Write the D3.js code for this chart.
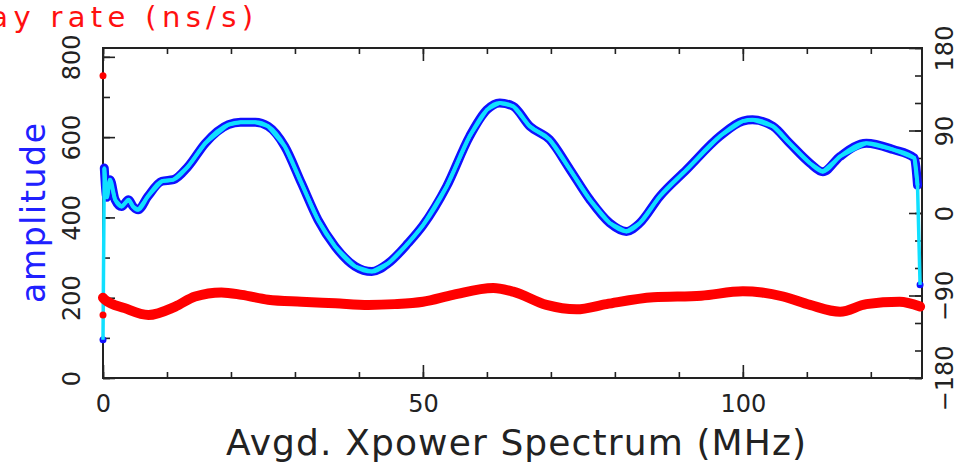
<!DOCTYPE html>
<html>
<head>
<meta charset="utf-8">
<script src="https://cdn.jsdelivr.net/npm/d3@7"></script>
<style>
  html, body { margin: 0; padding: 0; background: #fff; }
  svg { display: block; }
</style>
</head>
<body>
<svg id="chart" width="967" height="469"></svg>
<script>
// amplitude spectrum (blue / cyan)
const ampFreq = [0, 0.2, 0.6, 1.1, 1.9, 2.9, 4.0, 4.7, 5.5, 7.0, 9.2, 11, 13.3, 16, 19.6, 21.5, 23.8, 25.8,
  28.4, 31, 33.6, 36.3, 39.4, 42, 44.6, 47.7, 50, 53.7, 57.3, 60, 62, 64.1, 66.7, 69.8, 73, 76.1, 79.2,
  81.8, 83.9, 87, 91.2, 96.4, 100, 101.5, 104.7, 107.3, 110.5, 112.5, 115.2, 119.3, 123.5, 126.8, 127.3, 127.7];
const ampValue = [95, 523, 450, 494, 444, 427, 444, 427, 419, 452, 490, 494, 527, 585, 631, 637, 637, 627,
  577, 486, 394, 327, 278, 265, 286, 336, 380, 477, 602, 668, 685, 677, 627, 594, 519, 444, 386,
  365, 386, 452, 519, 602, 640, 643, 627, 585, 535, 514, 552, 585, 569, 548, 480, 232];

// delay rate (red)
const rateFreq = [0, 0.3, 3.4, 7.1, 11.3, 14.4, 18.5, 21.7, 25.8, 31, 36.3, 41.5, 45.6, 50, 54.7, 61, 64.1,
  69.3, 74, 78.7, 86, 93.5, 100, 103, 106.3, 110.5, 115.2, 119.3, 124.5, 127.7];
const rateValue = [200, 195, 174, 157, 178, 203, 213, 207, 195, 190, 186, 182, 184, 190, 207, 224, 215,
  182, 171, 184, 201, 205, 216, 213, 203, 182, 165, 184, 190, 178];
const rateEdgeFreq = [0, 0];
const rateEdgeValue = [753, 157];

const xTicks = [0, 50, 100];
const ampTicks = [0, 200, 400, 600, 800];
const phaseTicks = [-180, -90, 0, 90, 180];

const svg = d3.select('#chart');
const box = { left: 103, right: 922, top: 48, bottom: 378 };

const x = d3.scaleLinear([0, 128], [box.left, box.right]);
const yAmp = d3.scaleLinear([0, 822], [box.bottom, box.top]);
const yPhase = d3.scaleLinear([-180, 180], [box.bottom, box.top]);

const font = 'DejaVu Sans, sans-serif';
const ink = '#222';

function styleAxis(g) {
  g.attr('font-family', font).attr('font-size', 24).attr('color', ink);
  g.select('.domain').remove();
  g.selectAll('.tick line').attr('stroke-width', 1.6);
  g.selectAll('.tick text').attr('fill', ink);
}

// minor ticks (inward)
svg.append('g').attr('transform', `translate(0,${box.bottom})`)
  .call(d3.axisBottom(x).tickValues(d3.range(0, 129, 10)).tickSize(-6).tickFormat(''))
  .call(styleAxis);
svg.append('g').attr('transform', `translate(0,${box.top})`)
  .call(d3.axisTop(x).tickValues(d3.range(0, 129, 10)).tickSize(-6).tickFormat(''))
  .call(styleAxis);
svg.append('g').attr('transform', `translate(${box.left},0)`)
  .call(d3.axisLeft(yAmp).tickValues(d3.range(0, 801, 100)).tickSize(-7).tickFormat(''))
  .call(styleAxis);
svg.append('g').attr('transform', `translate(${box.right},0)`)
  .call(d3.axisRight(yPhase).tickValues(d3.range(-180, 181, 30)).tickSize(-7).tickFormat(''))
  .call(styleAxis);

// major ticks + labels
svg.append('g').attr('transform', `translate(0,${box.bottom})`)
  .call(d3.axisBottom(x).tickValues(xTicks).tickSize(-13))
  .call(styleAxis)
  .call(g => g.selectAll('.tick text').attr('y', 34).attr('dy', 0));
svg.append('g').attr('transform', `translate(0,${box.top})`)
  .call(d3.axisTop(x).tickValues(xTicks).tickSize(-13).tickFormat(''))
  .call(styleAxis);
svg.append('g').attr('transform', `translate(${box.left},0)`)
  .call(d3.axisLeft(yAmp).tickValues(ampTicks).tickSize(-12))
  .call(styleAxis)
  .call(g => g.selectAll('.tick text')
    .attr('transform', 'rotate(-90)').attr('x', 0).attr('y', -23).attr('dy', 0)
    .attr('text-anchor', 'middle'));
svg.append('g').attr('transform', `translate(${box.right},0)`)
  .call(d3.axisRight(yPhase).tickValues(phaseTicks).tickSize(-13))
  .call(styleAxis)
  .call(g => g.selectAll('.tick text')
    .attr('transform', 'rotate(-90)').attr('x', 0).attr('y', 31).attr('dy', 0)
    .attr('text-anchor', 'middle'));

// frame
svg.append('rect')
  .attr('x', box.left).attr('y', box.top)
  .attr('width', box.right - box.left).attr('height', box.bottom - box.top)
  .attr('fill', 'none').attr('stroke', ink).attr('stroke-width', 2);

// data
const ampData = ampFreq.map((f, i) => ({ f, v: ampValue[i] }));
const rateData = rateFreq.map((f, i) => ({ f, v: rateValue[i] }));
const rateEdge = rateEdgeFreq.map((f, i) => ({ f, v: rateEdgeValue[i] }));

const ampLine = d3.line().x(d => x(d.f)).y(d => yAmp(d.v)).curve(d3.curveMonotoneX);
const ampStep = d3.line().x(d => x(d.f)).y(d => yAmp(d.v));

const plot = svg.append('g');

// blue band over the inner channels, edge channels as lone points
plot.append('path')
  .datum(ampData.slice(1, -1))
  .attr('d', ampLine)
  .attr('fill', 'none').attr('stroke', '#1010ff')
  .attr('stroke-width', 9).attr('stroke-linejoin', 'round').attr('stroke-linecap', 'round');
plot.selectAll('.amp-edge')
  .data([ampData[0], ampData[ampData.length - 1]])
  .join('circle')
    .attr('class', 'amp-edge')
    .attr('cx', d => x(d.f)).attr('cy', d => yAmp(d.v))
    .attr('r', 3.5).attr('fill', '#1010ff');
plot.append('path')
  .datum(ampData)
  .attr('d', ampStep)
  .attr('fill', 'none').attr('stroke', '#10e0ff')
  .attr('stroke-width', 3.5).attr('stroke-linejoin', 'round');
plot.append('path')
  .datum(ampData.slice(1, -1))
  .attr('d', ampLine)
  .attr('fill', 'none').attr('stroke', '#10e0ff')
  .attr('stroke-width', 4).attr('stroke-linejoin', 'round');

// red delay rate
plot.append('path')
  .datum(rateData)
  .attr('d', d3.line().x(d => x(d.f)).y(d => yAmp(d.v)).curve(d3.curveMonotoneX))
  .attr('fill', 'none').attr('stroke', '#ff0000')
  .attr('stroke-width', 10).attr('stroke-linejoin', 'round').attr('stroke-linecap', 'round');
plot.selectAll('.rate-edge')
  .data(rateEdge)
  .join('circle')
    .attr('class', 'rate-edge')
    .attr('cx', d => x(d.f)).attr('cy', d => yAmp(d.v))
    .attr('r', 3.5).attr('fill', '#ff0000');

// labels
svg.append('text')
  .attr('x', 516).attr('y', 455)
  .attr('text-anchor', 'middle')
  .attr('font-family', font).attr('font-size', 36).attr('fill', ink)
  .attr('textLength', 580).attr('lengthAdjust', 'spacing')
  .text('Avgd. Xpower Spectrum (MHz)');

svg.append('text')
  .attr('transform', 'translate(45,213) rotate(-90)')
  .attr('text-anchor', 'middle')
  .attr('font-family', font).attr('font-size', 33).attr('fill', '#2020ff')
  .attr('textLength', 180).attr('lengthAdjust', 'spacing')
  .text('amplitude');

// the reference crops this title at the left edge
svg.append('text')
  .attr('x', -70).attr('y', 27)
  .attr('font-family', font).attr('font-size', 29).attr('fill', '#ff1010')
  .attr('textLength', 323).attr('lengthAdjust', 'spacing')
  .text('delay rate (ns/s)');
</script>
</body>
</html>
